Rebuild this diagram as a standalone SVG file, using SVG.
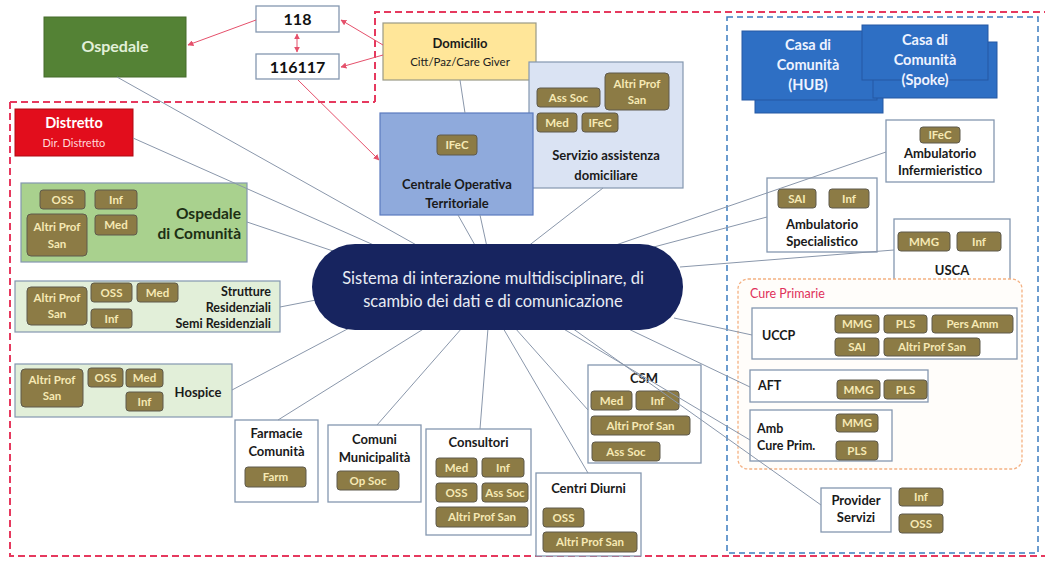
<svg xmlns="http://www.w3.org/2000/svg" width="1045" height="562" viewBox="0 0 1045 562">
<defs>
<marker id="ah" viewBox="0 0 10 10" refX="9" refY="5" markerWidth="6" markerHeight="6" orient="auto-start-reverse">
<path d="M0,0 L10,5 L0,10 z" fill="#e5506b"/>
</marker>
<style>
text{font-family:Lato,"Liberation Sans",sans-serif}
.box{fill:#fff;stroke:#8497b0;stroke-width:1.3}
.chip rect{fill:#8c7b45;stroke:#5f5a4c;stroke-width:1}
.chip text{font-size:11.5px;font-weight:bold;fill:#f6e9b4;text-anchor:middle}
.lbl{font-size:13px;font-weight:bold;fill:#1a1a1a;text-anchor:middle}
.lbs{font-size:12.5px;font-weight:bold;fill:#1a1a1a}
.conn line{stroke:#8a97ab;stroke-width:1}
.red line{stroke:#e5506b;stroke-width:1}
.casa{fill:#2e6fc4;stroke:#2559a3;stroke-width:1}
.ct{font-size:14.5px;font-weight:bold;fill:#eef3ff;text-anchor:middle}
</style>
</defs>
<rect width="1045" height="562" fill="#fff"/>

<g id="boundaries" fill="none">
<path d="M375,102 V12 H1050 M10,102 H375 M10,102 V556 H1050" stroke="#e6395e" stroke-width="2" stroke-dasharray="7,4"/>
<rect x="727" y="17" width="311" height="536" stroke="#3d7cc0" stroke-width="1.5" stroke-dasharray="6,4"/>
</g>

<g id="ospedale">
<rect x="44" y="17" width="142" height="60" fill="#548235" stroke="#456b2b"/>
<text x="115" y="52" text-anchor="middle" font-size="16" font-weight="bold" fill="#e2f0d9">Ospedale</text>
</g>
<g id="n118">
<rect class="box" x="256" y="6" width="83" height="26"/>
<text x="297.5" y="25" text-anchor="middle" font-size="16" font-weight="bold" fill="#111">118</text>
</g>
<g id="n116117">
<rect class="box" x="256" y="54" width="83" height="25"/>
<text x="297.5" y="72.5" text-anchor="middle" font-size="16" font-weight="bold" fill="#111">116117</text>
</g>

<g id="domicilio">
<rect x="383" y="23" width="153" height="57" fill="#ffe699" stroke="#9a9a86" stroke-width="1.2"/>
<text x="460" y="48" class="lbl" font-size="14.5">Domicilio</text>
<text x="460" y="66" text-anchor="middle" font-size="11.5" fill="#222">Citt/Paz/Care Giver</text>
</g>

<g id="servizio">
<rect x="529" y="62" width="154" height="126" fill="#dae3f3" stroke="#8497b0" stroke-width="1.2"/>
<g class="chip">
<rect x="537" y="88" width="63" height="19" rx="3"/><text x="568.5" y="101.5">Ass Soc</text>
<rect x="605" y="73" width="64" height="37" rx="4"/><text x="637" y="88">Altri Prof</text><text x="637" y="104">San</text>
<rect x="537" y="113" width="40" height="19" rx="3"/><text x="557" y="126.5">Med</text>
<rect x="582" y="113" width="36" height="19" rx="3"/><text x="600" y="126.5">IFeC</text>
</g>
<text x="606" y="160" class="lbl" font-size="15">Servizio assistenza</text>
<text x="606" y="180" class="lbl" font-size="15">domiciliare</text>
</g>

<g id="centrale">
<rect x="380" y="113" width="153" height="102" fill="#8faadc" stroke="#5b7bbf" stroke-width="1.2"/>
<g class="chip"><rect x="437" y="135" width="40" height="20" rx="3"/><text x="457" y="149">IFeC</text></g>
<text x="457" y="189" class="lbl" font-size="15.5" fill="#1b2a4a">Centrale Operativa</text>
<text x="457" y="208" class="lbl" font-size="15.5" fill="#1b2a4a">Territoriale</text>
</g>

<g id="casa-hub">
<rect class="casa" x="755" y="44" width="128" height="69"/>
<rect class="casa" x="742" y="31" width="135" height="69"/>
<text x="808" y="50" class="ct">Casa di</text>
<text x="808" y="70" class="ct">Comunità</text>
<text x="808" y="90" class="ct">(HUB)</text>
</g>
<g id="casa-spoke">
<rect class="casa" x="873" y="42" width="124" height="56"/>
<rect class="casa" x="862" y="25" width="126" height="55"/>
<text x="925" y="45" class="ct">Casa di</text>
<text x="925" y="65" class="ct">Comunità</text>
<text x="925" y="85" class="ct">(Spoke)</text>
</g>

<g id="amb-inf">
<rect class="box" x="886" y="120" width="108" height="62"/>
<g class="chip"><rect x="920" y="127" width="40" height="16" rx="3"/><text x="940" y="139">IFeC</text></g>
<text x="940" y="158" class="lbl" font-size="12.5">Ambulatorio</text>
<text x="940" y="175" class="lbl" font-size="12.5">Infermieristico</text>
</g>

<g id="amb-spec">
<rect class="box" x="767" y="178" width="110" height="74"/>
<g class="chip">
<rect x="778" y="189" width="38" height="19" rx="3"/><text x="797" y="202.5">SAI</text>
<rect x="829" y="189" width="40" height="19" rx="3"/><text x="849" y="202.5">Inf</text>
</g>
<text x="822" y="229" class="lbl" font-size="12.5">Ambulatorio</text>
<text x="822" y="246" class="lbl" font-size="12.5">Specialistico</text>
</g>

<g id="usca">
<rect class="box" x="894" y="219" width="116" height="63"/>
<g class="chip">
<rect x="898" y="232" width="52" height="19" rx="3"/><text x="924" y="245.5">MMG</text>
<rect x="957" y="232" width="44" height="19" rx="3"/><text x="979" y="245.5">Inf</text>
</g>
<text x="952" y="275" class="lbl">USCA</text>
</g>

<g id="cure-primarie">
<rect x="738" y="279" width="284" height="190" rx="10" fill="#fffdfa" stroke="#f4b183" stroke-width="1.3" stroke-dasharray="3,2"/>
<text x="750" y="298" font-size="12.5" fill="#e0305a">Cure Primarie</text>
</g>

<g id="uccp">
<rect class="box" x="752" y="308" width="265" height="51"/>
<text x="762" y="340" class="lbs" font-size="13">UCCP</text>
<g class="chip">
<rect x="835" y="315" width="44" height="18" rx="3"/><text x="857" y="328">MMG</text>
<rect x="884" y="315" width="43" height="18" rx="3"/><text x="905.5" y="328">PLS</text>
<rect x="932" y="315" width="81" height="18" rx="3"/><text x="972.5" y="328">Pers Amm</text>
<rect x="835" y="338" width="44" height="18" rx="3"/><text x="857" y="351">SAI</text>
<rect x="884" y="338" width="96" height="18" rx="3"/><text x="932" y="351">Altri Prof San</text>
</g>
</g>

<g id="aft">
<rect class="box" x="750" y="370" width="178" height="32"/>
<text x="758" y="390" class="lbs" font-size="13">AFT</text>
<g class="chip">
<rect x="837" y="380" width="43" height="19" rx="3"/><text x="858.5" y="393.5">MMG</text>
<rect x="884" y="380" width="43" height="19" rx="3"/><text x="905.5" y="393.5">PLS</text>
</g>
</g>

<g id="amb-cure-prim">
<rect class="box" x="750" y="410" width="142" height="51"/>
<text x="757" y="433" class="lbs" font-size="13">Amb</text>
<text x="757" y="450" class="lbs" font-size="13">Cure Prim.</text>
<g class="chip">
<rect x="836" y="414" width="42" height="18" rx="3"/><text x="857" y="427">MMG</text>
<rect x="836" y="441" width="42" height="19" rx="3"/><text x="857" y="454.5">PLS</text>
</g>
</g>

<g id="provider">
<rect class="box" x="821" y="488" width="70" height="44"/>
<text x="856" y="505" class="lbl" font-size="12.5">Provider</text>
<text x="856" y="522" class="lbl" font-size="12.5">Servizi</text>
<g class="chip">
<rect x="899" y="488" width="44" height="18" rx="3"/><text x="921" y="501">Inf</text>
<rect x="899" y="514" width="44" height="19" rx="3"/><text x="921" y="527.5">OSS</text>
</g>
</g>

<g id="distretto">
<rect x="15" y="109" width="118" height="47" fill="#e20d1c" stroke="#b00812"/>
<text x="74" y="128" text-anchor="middle" font-size="14.5" font-weight="bold" fill="#fff">Distretto</text>
<text x="74" y="147" text-anchor="middle" font-size="11" fill="#ffd9d9">Dir. Distretto</text>
</g>

<g id="ospedale-comunita">
<rect x="21" y="183" width="226" height="79" fill="#a9d18e" stroke="#8497b0" stroke-width="1.2"/>
<g class="chip">
<rect x="40" y="190" width="45" height="19" rx="3"/><text x="62.5" y="203.5">OSS</text>
<rect x="95" y="190" width="42" height="19" rx="3"/><text x="116" y="203.5">Inf</text>
<rect x="27" y="214" width="60" height="42" rx="4"/><text x="57" y="231">Altri Prof</text><text x="57" y="248">San</text>
<rect x="95" y="215" width="42" height="20" rx="3"/><text x="116" y="229">Med</text>
</g>
<text x="241" y="219" text-anchor="end" font-size="15.5" font-weight="bold" fill="#1d2f14">Ospedale</text>
<text x="241" y="239" text-anchor="end" font-size="15.5" font-weight="bold" fill="#1d2f14">di Comunità</text>
</g>

<g id="strutture">
<rect x="15" y="281" width="265" height="51" fill="#e2efd9" stroke="#8497b0" stroke-width="1.2"/>
<g class="chip">
<rect x="27" y="287" width="60" height="38" rx="4"/><text x="57" y="302">Altri Prof</text><text x="57" y="318">San</text>
<rect x="91" y="283" width="41" height="19" rx="3"/><text x="111.5" y="296.5">OSS</text>
<rect x="137" y="283" width="41" height="19" rx="3"/><text x="157.5" y="296.5">Med</text>
<rect x="91" y="309" width="41" height="19" rx="3"/><text x="111.5" y="322.5">Inf</text>
</g>
<text x="271" y="296" text-anchor="end" class="lbs" font-size="13">Strutture</text>
<text x="271" y="312" text-anchor="end" class="lbs" font-size="13">Residenziali</text>
<text x="271" y="328" text-anchor="end" class="lbs" font-size="13">Semi Residenziali</text>
</g>

<g id="hospice">
<rect x="15" y="364" width="217" height="53" fill="#e2efd9" stroke="#8497b0" stroke-width="1.2"/>
<g class="chip">
<rect x="21" y="369" width="62" height="38" rx="4"/><text x="52" y="384">Altri Prof</text><text x="52" y="400">San</text>
<rect x="88" y="368" width="35" height="19" rx="3"/><text x="105.5" y="381.5">OSS</text>
<rect x="126" y="369" width="37" height="18" rx="3"/><text x="144.5" y="382">Med</text>
<rect x="126" y="392" width="37" height="19" rx="3"/><text x="144.5" y="405.5">Inf</text>
</g>
<text x="198" y="397" class="lbl" font-size="13.5">Hospice</text>
</g>

<g id="farmacie">
<rect class="box" x="235" y="420" width="83" height="82"/>
<text x="276.5" y="438" class="lbl">Farmacie</text>
<text x="276.5" y="456" class="lbl">Comunità</text>
<g class="chip"><rect x="245" y="467" width="61" height="20" rx="3"/><text x="275.5" y="481">Farm</text></g>
</g>

<g id="comuni">
<rect class="box" x="328" y="425" width="93" height="77"/>
<text x="374.5" y="444" class="lbl">Comuni</text>
<text x="374.5" y="462" class="lbl">Municipalità</text>
<g class="chip"><rect x="337" y="471" width="62" height="19" rx="3"/><text x="368" y="484.5">Op Soc</text></g>
</g>

<g id="consultori">
<rect class="box" x="426" y="429" width="105" height="106"/>
<text x="478.5" y="447" class="lbl" font-size="13.5">Consultori</text>
<g class="chip">
<rect x="436" y="458" width="41" height="19" rx="3"/><text x="456.5" y="471.5">Med</text>
<rect x="482" y="458" width="42" height="19" rx="3"/><text x="503" y="471.5">Inf</text>
<rect x="436" y="483" width="41" height="19" rx="3"/><text x="456.5" y="496.5">OSS</text>
<rect x="482" y="483" width="46" height="19" rx="3"/><text x="505" y="496.5">Ass Soc</text>
<rect x="436" y="507" width="92" height="20" rx="3"/><text x="482" y="521">Altri Prof San</text>
</g>
</g>

<g id="centri-diurni">
<rect class="box" x="536" y="473" width="105" height="83"/>
<text x="588.5" y="493" class="lbl" font-size="13.5">Centri Diurni</text>
<g class="chip">
<rect x="543" y="508" width="41" height="19" rx="3"/><text x="563.5" y="521.5">OSS</text>
<rect x="543" y="532" width="94" height="20" rx="3"/><text x="590" y="546">Altri Prof San</text>
</g>
</g>

<g id="csm">
<rect class="box" x="588" y="365" width="113" height="98"/>
<text x="644" y="383" class="lbl" font-size="13.5">CSM</text>
<g class="chip">
<rect x="591" y="391" width="41" height="19" rx="3"/><text x="611.5" y="404.5">Med</text>
<rect x="636" y="391" width="43" height="19" rx="3"/><text x="657.5" y="404.5">Inf</text>
<rect x="591" y="416" width="99" height="19" rx="3"/><text x="640.5" y="429.5">Altri Prof San</text>
<rect x="592" y="442" width="68" height="19" rx="3"/><text x="626" y="455.5">Ass Soc</text>
</g>
</g>

<g id="connectors">
<g class="conn">
<line x1="117" y1="77" x2="420" y2="247"/>
<line x1="133" y1="138" x2="385" y2="250"/>
<line x1="247" y1="222" x2="336" y2="252"/>
<line x1="280" y1="307" x2="316" y2="300"/>
<line x1="232" y1="390" x2="355" y2="325"/>
<line x1="278" y1="420" x2="425" y2="328"/>
<line x1="377" y1="425" x2="462" y2="328"/>
<line x1="480" y1="429" x2="488" y2="328"/>
<line x1="588" y1="473" x2="503" y2="328"/>
<line x1="588" y1="410" x2="515" y2="328"/>
<line x1="750" y1="440" x2="562" y2="328"/>
<line x1="821" y1="505" x2="572" y2="328"/>
<line x1="750" y1="387" x2="618" y2="324"/>
<line x1="752" y1="335" x2="674" y2="318"/>
<line x1="894" y1="250" x2="680" y2="267"/>
<line x1="767" y1="217" x2="650" y2="248"/>
<line x1="886" y1="152" x2="610" y2="247"/>
<line x1="603" y1="188" x2="527" y2="247"/>
<line x1="458" y1="215" x2="476" y2="247"/>
<line x1="480" y1="215" x2="487" y2="247"/>
<line x1="460" y1="80" x2="465" y2="113"/>
</g>
<g class="red">
<line x1="256" y1="20" x2="188" y2="45" marker-end="url(#ah)"/>
<line x1="383" y1="45" x2="341" y2="20" marker-end="url(#ah)"/>
<line x1="383" y1="55" x2="341" y2="67" marker-end="url(#ah)"/>
<line x1="297" y1="34" x2="297" y2="52" marker-start="url(#ah)" marker-end="url(#ah)"/>
<line x1="298" y1="80" x2="379" y2="160" marker-end="url(#ah)"/>
</g>
</g>

<g id="sistema">
<rect x="312" y="244" width="371" height="86" rx="43" fill="#17245f"/>
<text x="493" y="284" text-anchor="middle" font-size="16.5" fill="#e8ecf4">Sistema di interazione multidisciplinare, di</text>
<text x="493" y="307" text-anchor="middle" font-size="16.5" fill="#e8ecf4">scambio dei dati e di comunicazione</text>
</g>
</svg>
